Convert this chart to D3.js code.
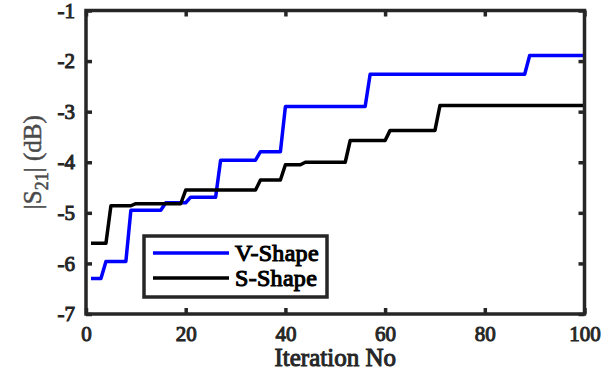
<!DOCTYPE html>
<html>
<head>
<meta charset="utf-8">
<script src="https://cdn.jsdelivr.net/npm/d3@7"></script>
<style>
  html, body { margin: 0; padding: 0; background: #fff; }
  svg { display: block; }
  svg text { font-family: "Liberation Serif", "Times New Roman", Times, serif; }
</style>
</head>
<body>
<svg id="chart" width="613" height="377"></svg>
<script>
// Convergence of |S21| over optimisation iterations (step-wise best value)
const vIter  = [1, 3, 4, 8, 9, 15, 16, 20, 21, 26, 27, 34, 35, 39, 40, 56, 57, 88, 89, 100];
const vValue = [-6.3, -6.3, -5.96, -5.96, -4.95, -4.95, -4.8, -4.8, -4.69, -4.69, -3.96, -3.96, -3.79, -3.79, -2.9, -2.9, -2.26, -2.26, -1.89, -1.89];

const sIter  = [1, 4, 5, 9, 10, 19, 20, 34, 35, 39, 40, 43, 44, 52, 53, 60, 61, 70, 71, 100];
const sValue = [-5.6, -5.6, -4.86, -4.86, -4.82, -4.82, -4.55, -4.55, -4.35, -4.35, -4.05, -4.05, -4.0, -4.0, -3.57, -3.57, -3.37, -3.37, -2.88, -2.88];

const seriesNames = ["V-Shape", "S-Shape"];
const seriesColors = ["#0000ff", "#000000"];

const xTicks = [0, 20, 40, 60, 80, 100];
const yTicks = [-7, -6, -5, -4, -3, -2, -1];

(function draw() {
  const svg = d3.select("#chart");
  const pLeft = 86, pRight = 584.5, pTop = 10.5, pBottom = 314;
  const axisColor = "#262626";
  const font = "Liberation Serif";

  // heavy serif text: regular face thickened with a matching outline
  const heavy = (sel, color, w) => sel
    .attr("font-family", font)
    .attr("font-weight", "normal")
    .attr("fill", color)
    .attr("stroke", color)
    .attr("stroke-width", w)
    .attr("paint-order", "stroke");

  const x = d3.scaleLinear().domain([0, 100]).range([pLeft, pRight]);
  const y = d3.scaleLinear().domain([-7, -1]).range([pBottom, pTop]);

  const line = d3.line().x(d => x(d[0])).y(d => y(d[1]));

  const series = [
    d3.zip(vIter, vValue),
    d3.zip(sIter, sValue)
  ];

  // data lines
  series.forEach((pts, i) => {
    svg.append("path")
      .datum(pts)
      .attr("d", line)
      .attr("fill", "none")
      .attr("stroke", seriesColors[i])
      .attr("stroke-width", 3.5)
      .attr("stroke-linejoin", "round");
  });

  // axes with inward ticks on all four sides
  const tickLen = 6;
  const styleAxis = g => {
    g.attr("font-family", font);
    g.select(".domain").remove();
    g.selectAll(".tick line").attr("stroke", axisColor).attr("stroke-width", 3.5);
    g.selectAll(".tick text")
      .call(heavy, axisColor, 1)
      .attr("font-size", 21);
  };

  svg.append("g")
    .attr("transform", `translate(0,${pBottom})`)
    .call(d3.axisBottom(x).tickValues(xTicks).tickSizeInner(-tickLen).tickSizeOuter(0).tickPadding(12))
    .call(styleAxis);

  svg.append("g")
    .attr("transform", `translate(0,${pTop})`)
    .call(d3.axisTop(x).tickValues(xTicks).tickSizeInner(-tickLen).tickSizeOuter(0).tickFormat(""))
    .call(styleAxis);

  svg.append("g")
    .attr("transform", `translate(${pLeft},0)`)
    .call(d3.axisLeft(y).tickValues(yTicks).tickSizeInner(-tickLen).tickSizeOuter(0).tickPadding(11).tickFormat(d => String(d)))
    .call(styleAxis);

  svg.append("g")
    .attr("transform", `translate(${pRight},0)`)
    .call(d3.axisRight(y).tickValues(yTicks).tickSizeInner(-tickLen).tickSizeOuter(0).tickFormat(""))
    .call(styleAxis);

  // plot box
  svg.append("rect")
    .attr("x", pLeft).attr("y", pTop)
    .attr("width", pRight - pLeft).attr("height", pBottom - pTop)
    .attr("fill", "none")
    .attr("stroke", axisColor)
    .attr("stroke-width", 3.5);

  // axis titles
  svg.append("text")
    .attr("x", (pLeft + pRight) / 2)
    .attr("y", 366)
    .attr("text-anchor", "middle")
    .call(heavy, axisColor, 1)
    .attr("font-size", 25)
    .text("Iteration No");

  const yl = svg.append("text")
    .attr("transform", `translate(41,${(pTop + pBottom) / 2}) rotate(-90)`)
    .attr("text-anchor", "middle")
    .call(heavy, "#4a4a4a", 0.5)
    .attr("font-size", 25);
  yl.append("tspan").text("|S");
  yl.append("tspan").attr("dy", 7).attr("font-size", 18).text("21");
  yl.append("tspan").attr("dy", -7).text("| (dB)");

  // legend
  const lg = svg.append("g");
  lg.append("rect")
    .attr("x", 144).attr("y", 236)
    .attr("width", 183).attr("height", 61)
    .attr("fill", "#fff")
    .attr("stroke", axisColor)
    .attr("stroke-width", 3.5);

  seriesNames.forEach((name, i) => {
    const ly = 253 + i * 25;
    lg.append("line")
      .attr("x1", 153).attr("x2", 229)
      .attr("y1", ly).attr("y2", ly)
      .attr("stroke", seriesColors[i])
      .attr("stroke-width", 3.5);
    lg.append("text")
      .attr("x", 235).attr("y", ly + 8)
      .call(heavy, "#000", 1.1)
      .attr("font-size", 24)
      .attr("letter-spacing", 0.3)
      .text(name);
  });
})();
</script>
</body>
</html>
